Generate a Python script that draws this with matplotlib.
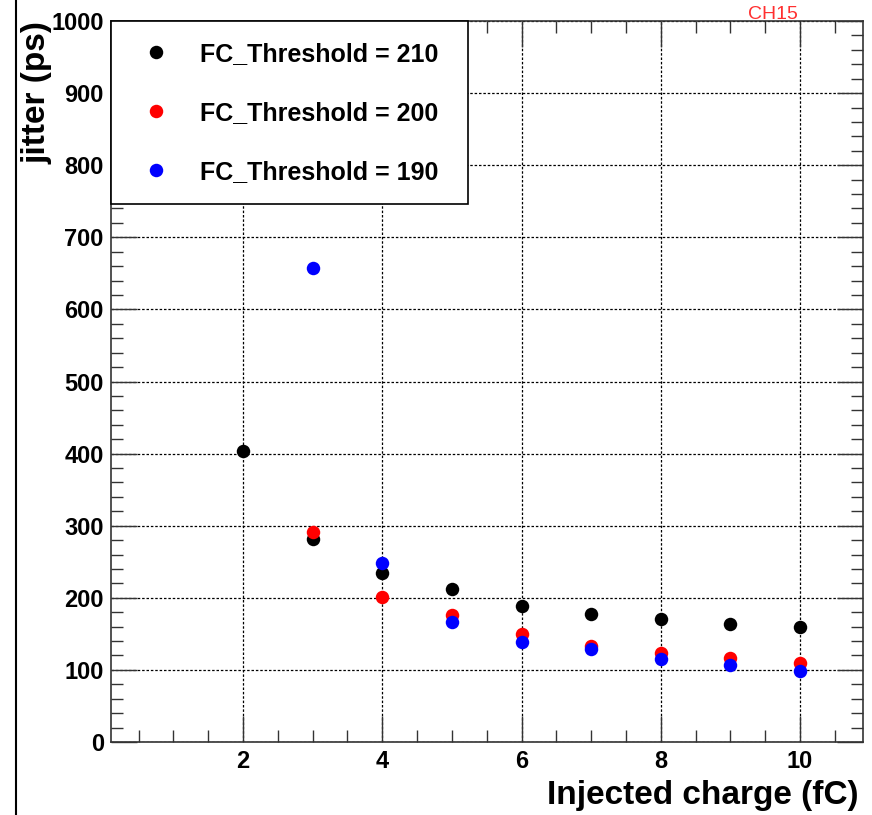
import matplotlib
matplotlib.use('Agg')
import matplotlib.pyplot as plt
from matplotlib.lines import Line2D
from matplotlib.ticker import MultipleLocator

# injected charge (fC) and jitter (ps) for each threshold setting
charge_210 = [2, 3, 4, 5, 6, 7, 8, 9, 10]
jitter_210 = [403, 281, 235, 212, 189, 178, 170, 163, 160]

charge_200 = [3, 4, 5, 6, 7, 8, 9, 10]
jitter_200 = [291, 201, 176, 150, 133, 123, 117, 109]

charge_190 = [3, 4, 5, 6, 7, 8, 9, 10]
jitter_190 = [657, 248, 167, 138, 129, 115, 107, 98]

series = [
    (charge_210, jitter_210, 'black', 'FC_Threshold = 210'),
    (charge_200, jitter_200, 'red', 'FC_Threshold = 200'),
    (charge_190, jitter_190, 'blue', 'FC_Threshold = 190'),
]

plt.rcParams['font.family'] = 'Liberation Sans'
plt.rcParams['font.weight'] = 'bold'

fig = plt.figure(figsize=(8.72, 8.15), dpi=100)
ax = fig.add_axes([0.127, 0.0896, 0.8623, 0.8846])

for x, y, c, lab in series:
    ax.plot(x, y, 'o', color=c, markersize=9.7, markeredgewidth=0, label=lab, zorder=3)

ax.set_xlim(0.1, 10.9)
ax.set_ylim(0, 1000)
ax.xaxis.set_major_locator(MultipleLocator(2))
ax.xaxis.set_minor_locator(MultipleLocator(0.5))
ax.yaxis.set_major_locator(MultipleLocator(100))
ax.yaxis.set_minor_locator(MultipleLocator(20))

ax.grid(True, which='major', color='black', linestyle=(0, (2, 1.5)), linewidth=0.9)

ax.tick_params(which='both', direction='in', top=True, right=True,
               color='#333333', width=1.0, labelsize=17, pad=5)
ax.tick_params(which='major', length=19)
ax.tick_params(which='minor', length=8.5)
ax.tick_params(axis='x', pad=6)
for lbl in ax.get_xticklabels() + ax.get_yticklabels():
    lbl.set_fontweight('bold')

for sp in ax.spines.values():
    sp.set_color('#333333')
    sp.set_linewidth(1.2)

ax.set_xlabel('Injected charge (fC)', fontsize=24, fontweight='bold', loc='right')
ax.xaxis.set_label_coords(0.994, -0.053)
ax.set_ylabel('jitter (ps)', fontsize=24, fontweight='bold', loc='top')
ax.yaxis.set_label_coords(-0.078, 1.0)

leg = ax.legend(loc='upper left', bbox_to_anchor=(0, 0.75, 0.475, 0.25), mode='expand',
                borderaxespad=0, fontsize=18, frameon=True, fancybox=False,
                edgecolor='black', framealpha=1, borderpad=0.82, labelspacing=1.4,
                handlelength=2.0, handletextpad=0.75)
leg.get_frame().set_linewidth(1.2)
leg.set_zorder(5)
for t in leg.get_texts():
    t.set_fontweight('bold')

fig.text(773 / 872, 1 - 14.5 / 815, 'CH15', color='#ff3030', fontsize=14,
         fontweight='normal', ha='center', va='center', zorder=10)

# left border of the canvas
fig.add_artist(Line2D([16 / 872, 16 / 872], [0, 1], color='black', linewidth=1.5))

plt.savefig('out.png', dpi=100)
